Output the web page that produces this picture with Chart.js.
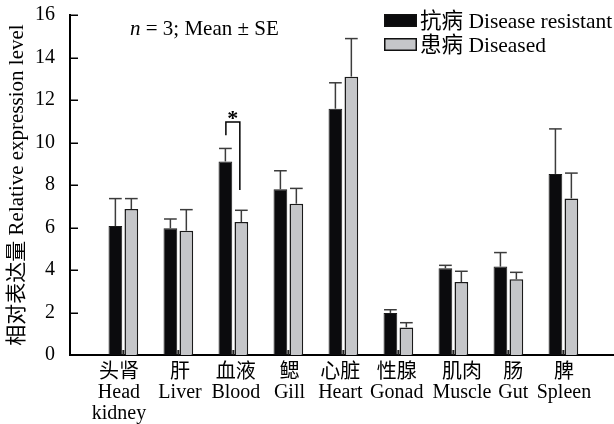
<!DOCTYPE html>
<html>
<head>
<meta charset="utf-8">
<title>相对表达量</title>
<style>
  html, body { margin: 0; padding: 0; background: #fff; }
  #wrap { width: 614px; height: 424px; }
</style>
<script src="https://cdn.jsdelivr.net/npm/chart.js@4/dist/chart.umd.min.js"></script>
</head>
<body>
<div id="wrap"><canvas id="chart" width="614" height="424"></canvas></div>
<script>
// Tissues (Chinese name + English name lines)
const tissuesCn = ['头肾', '肝', '血液', '鳃', '心脏', '性腺', '肌肉', '肠', '脾'];
const tissuesEn = [['Head', 'kidney'], ['Liver'], ['Blood'], ['Gill'], ['Heart'], ['Gonad'], ['Muscle'], ['Gut'], ['Spleen']];

// Relative expression, mean and standard error (n = 3)
const resistantMean = [6.07, 5.96, 9.11, 7.80, 11.59, 1.98, 4.08, 4.16, 8.52];
const resistantSE   = [1.29, 0.44, 0.61, 0.87, 1.22, 0.15, 0.14, 0.66, 2.12];
const diseasedMean  = [6.87, 5.85, 6.26, 7.12, 13.10, 1.30, 3.43, 3.56, 7.37];
const diseasedSE    = [0.49, 0.99, 0.55, 0.72, 1.79, 0.22, 0.51, 0.33, 1.19];

const seriesNames = ['抗病 Disease resistant', '患病 Diseased'];
const yTicks = [0, 2, 4, 6, 8, 10, 12, 14, 16];

// Significance bracket for blood (values on the y axis)
const sigGroup = 2;
const sigTop = 10.96;
const sigLeftEnd = 10.34;
const sigRightEnd = 7.76;
const sigMark = '*';

// Hand-placed label nudges, in category widths, so neighbouring names don't collide
const labelNudge = [-0.08, 0.03, 0.045, 0.02, -0.055, -0.03, 0.155, 0.09, 0.01];

const FONT = '"Liberation Serif", "Times New Roman", "Noto Sans CJK SC", serif';
const X_MIN = -0.97, X_MAX = 8.92;

const seList = [resistantSE, diseasedSE];

const overlay = {
  id: 'overlay',
  afterDatasetsDraw(chart) {
    const { ctx, scales: { x, y } } = chart;
    ctx.save();
    const line = (x1, y1, x2, y2) => {
      ctx.beginPath(); ctx.moveTo(x1, y1); ctx.lineTo(x2, y2); ctx.stroke();
    };
    const metas = chart.data.datasets.map((_, di) => chart.getDatasetMeta(di));

    // error bars (upper half only, capped)
    ctx.strokeStyle = '#3c3c3c';
    ctx.lineWidth = 1.5;
    chart.data.datasets.forEach((ds, di) => {
      metas[di].data.forEach((bar, i) => {
        const v = ds.data[i].y;
        const yTop = y.getPixelForValue(v + seList[di][i]);
        const yBar = y.getPixelForValue(v);
        const half = bar.width / 2 - 0.5;
        line(bar.x, yBar, bar.x, yTop);
        line(bar.x - half, yTop, bar.x + half, yTop);
      });
    });

    // inward tick marks on the y axis
    ctx.strokeStyle = '#000';
    ctx.lineWidth = 1.5;
    y.ticks.forEach(t => {
      const py = Math.round(y.getPixelForValue(t.value)) + 0.25;
      line(x.left, py, x.left + 8, py);
    });
    // short inward ticks between each bar pair on the x axis
    ctx.lineWidth = 2;
    ctx.strokeStyle = '#222';
    metas[0].data.forEach((bar, i) => {
      const px = (bar.x + metas[1].data[i].x) / 2;
      line(px, y.bottom, px, y.bottom - 5);
    });

    // significance bracket
    const b0 = metas[0].data[sigGroup];
    const b1 = metas[1].data[sigGroup];
    const xl = b0.x + 0.5, xr = b1.x - 1.5;
    const yt = y.getPixelForValue(sigTop);
    ctx.strokeStyle = '#000';
    ctx.lineWidth = 1.5;
    ctx.beginPath();
    ctx.moveTo(xl, y.getPixelForValue(sigLeftEnd));
    ctx.lineTo(xl, yt);
    ctx.lineTo(xr, yt);
    ctx.lineTo(xr, y.getPixelForValue(sigRightEnd));
    ctx.stroke();
    ctx.fillStyle = '#000';
    ctx.font = 'bold 22px ' + FONT;
    ctx.textAlign = 'center';
    ctx.textBaseline = 'alphabetic';
    const m = ctx.measureText(sigMark);
    const midOff = (m.actualBoundingBoxAscent - m.actualBoundingBoxDescent) / 2;
    ctx.fillText(sigMark, (xl + xr) / 2, yt - 7 + midOff);
    ctx.restore();
  },
  afterDraw(chart) {
    const { ctx } = chart;
    ctx.save();
    ctx.fillStyle = '#000';
    ctx.textBaseline = 'alphabetic';
    ctx.textAlign = 'left';

    // sample size note
    ctx.font = 'italic 21px ' + FONT;
    ctx.fillText('n', 130, 35);
    const nw = ctx.measureText('n').width;
    ctx.font = '21px ' + FONT;
    ctx.fillText(' = 3; Mean ± SE', 130 + nw, 35);

    // legend
    const rows = [14, 38];
    chart.data.datasets.forEach((ds, i) => {
      const top = rows[i];
      ctx.fillStyle = ds.backgroundColor;
      ctx.fillRect(384, top, 33, 13);
      ctx.strokeStyle = '#111';
      ctx.lineWidth = 1.5;
      ctx.strokeRect(384.75, top + 0.75, 31.5, 11.5);
      ctx.fillStyle = '#000';
      ctx.font = '21.5px ' + FONT;
      ctx.fillText(ds.label, 420, top + 13.5);
    });
    ctx.restore();
  }
};

new Chart(document.getElementById('chart'), {
  type: 'bar',
  data: {
    datasets: [
      {
        label: seriesNames[0],
        data: resistantMean.map((v, i) => ({ x: i, y: v })),
        backgroundColor: '#0b0b0d',
        borderColor: '#1a1a1a',
        borderWidth: 1
      },
      {
        label: seriesNames[1],
        data: diseasedMean.map((v, i) => ({ x: i, y: v })),
        backgroundColor: '#c5c6c9',
        borderColor: '#1a1a1a',
        borderWidth: 1.5
      }
    ]
  },
  options: {
    responsive: false,
    animation: false,
    devicePixelRatio: 1,
    layout: { padding: { top: 15, right: 0, bottom: 0, left: 0 } },
    categoryPercentage: 0.58,
    barPercentage: 0.86,
    plugins: {
      legend: { display: false },
      tooltip: { enabled: false }
    },
    scales: {
      // value axis for the bars: only the baseline is drawn
      x: {
        type: 'linear',
        min: X_MIN,
        max: X_MAX,
        offset: false,
        grid: { display: false, drawTicks: false },
        border: { display: true, color: '#000', width: 2 },
        afterBuildTicks: scale => { scale.ticks = tissuesCn.map((_, i) => ({ value: i })); },
        afterFit: scale => { scale.height = 0; },
        ticks: { display: false }
      },
      y: {
        min: 0,
        max: 16,
        grid: { display: false, drawTicks: true, tickLength: 12 },
        border: { display: true, color: '#000', width: 2 },
        afterBuildTicks: scale => { scale.ticks = yTicks.map(v => ({ value: v })); },
        afterFit: scale => { scale.width = 70; },
        ticks: {
          padding: 3,
          color: '#000',
          font: { family: FONT, size: 20 }
        },
        title: {
          display: true,
          text: '相对表达量 Relative expression level',
          color: '#000',
          font: { family: FONT, size: 21 },
          padding: { top: 4.5, bottom: 0 }
        }
      },
      // tissue name axis sharing the same range
      xNames: {
        type: 'linear',
        position: 'bottom',
        min: X_MIN,
        max: X_MAX,
        offset: false,
        grid: { display: false, drawTicks: false },
        border: { display: false },
        afterBuildTicks: scale => {
          scale.ticks = tissuesCn.map((_, i) => ({ value: i + labelNudge[i], index: i }));
        },
        afterFit: scale => { scale.height = 69; },
        ticks: {
          autoSkip: false,
          maxRotation: 0,
          padding: 7,
          color: '#000',
          font: { family: FONT, size: 20, lineHeight: 1.03 },
          callback: (value, index) => [tissuesCn[index], ...tissuesEn[index]]
        }
      }
    }
  },
  plugins: [overlay]
});
</script>
</body>
</html>
